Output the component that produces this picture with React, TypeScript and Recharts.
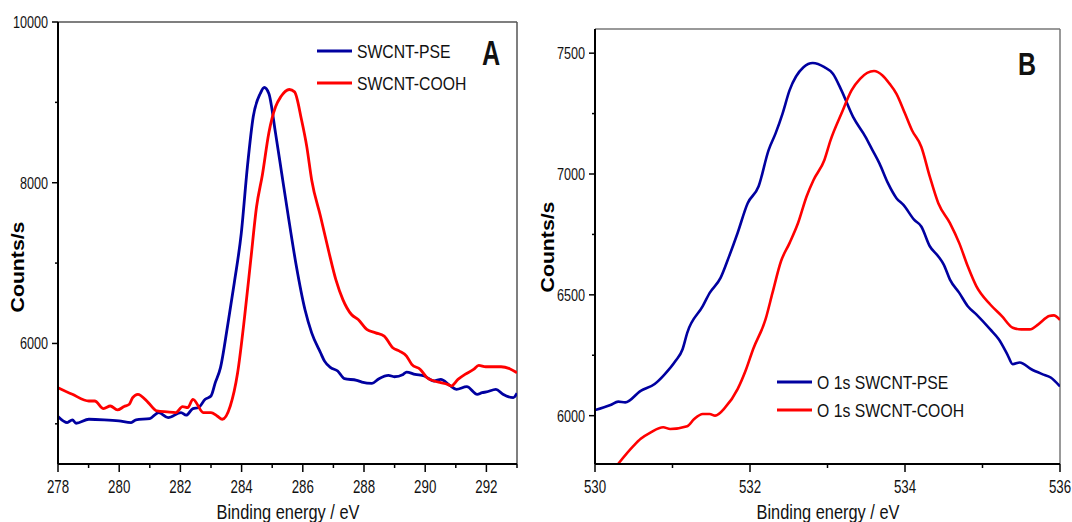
import { LineChart, Line, XAxis, YAxis, ReferenceLine } from 'recharts'

// Panel A: C 1s region
const aPseX = [278.0, 278.3, 278.47, 278.59, 279.01, 279.51, 279.99, 280.39, 280.55, 281.0, 281.29, 281.6, 282.02, 282.19, 282.41, 282.58, 282.81, 283.0, 283.14, 283.31, 283.54, 283.76, 283.99, 284.19, 284.38, 284.61, 284.74, 284.89, 285.11, 285.31, 285.51, 285.79, 286.07, 286.29, 286.58, 286.71, 286.91, 287.14, 287.36, 287.76, 287.93, 288.26, 288.49, 288.8, 288.99, 289.28, 289.39, 289.67, 289.97, 290.29, 290.51, 290.8, 291.02, 291.36, 291.7, 291.86, 292.0, 292.31, 292.54, 292.88, 293.0]
const aPseY = [5090, 5015, 5050, 5007, 5057, 5050, 5036, 5015, 5050, 5065, 5140, 5077, 5140, 5107, 5190, 5200, 5305, 5346, 5512, 5700, 6215, 6753, 7373, 8200, 8820, 9110, 9185, 9110, 8614, 8118, 7622, 6960, 6422, 6132, 5884, 5780, 5700, 5657, 5562, 5541, 5520, 5504, 5562, 5603, 5586, 5615, 5644, 5615, 5595, 5533, 5553, 5479, 5429, 5462, 5367, 5388, 5396, 5429, 5367, 5326, 5380]

const aCoohX = [278.0, 278.47, 279.01, 279.2, 279.49, 279.71, 279.94, 280.16, 280.33, 280.44, 280.61, 280.95, 281.23, 281.57, 281.85, 282.07, 282.24, 282.41, 282.75, 283.0, 283.2, 283.37, 283.63, 283.87, 284.1, 284.3, 284.49, 284.68, 284.89, 285.11, 285.28, 285.56, 285.73, 285.96, 286.13, 286.29, 286.58, 286.86, 287.08, 287.31, 287.59, 287.81, 288.09, 288.38, 288.66, 288.94, 289.16, 289.39, 289.56, 289.84, 290.06, 290.29, 290.51, 290.73, 290.85, 291.07, 291.3, 291.58, 291.75, 291.98, 292.48, 292.76, 293.0]
const aCoohY = [5450, 5367, 5284, 5284, 5190, 5222, 5173, 5215, 5243, 5326, 5367, 5264, 5161, 5148, 5140, 5215, 5202, 5305, 5140, 5140, 5098, 5057, 5222, 5636, 6339, 7042, 7704, 8100, 8620, 8945, 9069, 9160, 9131, 8780, 8449, 8035, 7580, 7125, 6794, 6546, 6360, 6298, 6174, 6132, 6091, 5946, 5905, 5843, 5740, 5677, 5574, 5533, 5512, 5491, 5471, 5553, 5615, 5677, 5727, 5710, 5710, 5686, 5636]

// Panel B: O 1s region
const bPseX = [530.0, 530.2, 530.3, 530.39, 530.59, 530.77, 530.89, 531.04, 531.13, 531.19, 531.39, 531.48, 531.62, 531.73, 531.84, 531.97, 532.11, 532.24, 532.33, 532.42, 532.51, 532.69, 532.81, 532.96, 533.07, 533.18, 533.33, 533.49, 533.58, 533.67, 533.78, 533.89, 533.98, 534.12, 534.21, 534.32, 534.43, 534.5, 534.58, 534.7, 534.81, 534.92, 535.1, 535.21, 535.32, 535.39, 535.48, 535.63, 535.77, 535.88, 536.0]
const bPseY = [6023, 6044, 6058, 6055, 6103, 6131, 6168, 6227, 6275, 6343, 6453, 6508, 6570, 6659, 6756, 6879, 6948, 7099, 7168, 7250, 7346, 7442, 7459, 7442, 7415, 7346, 7236, 7154, 7099, 7044, 6962, 6900, 6872, 6810, 6783, 6701, 6659, 6625, 6563, 6508, 6453, 6419, 6357, 6316, 6254, 6213, 6220, 6192, 6172, 6158, 6121]

const bCoohX = [530.3, 530.5, 530.59, 530.72, 530.88, 530.97, 531.19, 531.28, 531.39, 531.48, 531.55, 531.68, 531.84, 531.95, 532.04, 532.2, 532.29, 532.4, 532.51, 532.62, 532.73, 532.82, 532.96, 533.04, 533.18, 533.31, 533.42, 533.6, 533.71, 533.8, 533.89, 534.0, 534.09, 534.21, 534.32, 534.43, 534.58, 534.7, 534.81, 534.92, 535.1, 535.25, 535.39, 535.5, 535.61, 535.72, 535.86, 535.92, 536.0]
const bCoohY = [5801, 5876, 5904, 5931, 5952, 5945, 5956, 5986, 6007, 6007, 6000, 6034, 6110, 6192, 6275, 6398, 6508, 6639, 6714, 6797, 6907, 6975, 7058, 7140, 7250, 7346, 7394, 7426, 7408, 7374, 7332, 7250, 7181, 7113, 6989, 6879, 6797, 6714, 6618, 6536, 6460, 6412, 6364, 6357, 6357, 6378, 6412, 6415, 6396]

const aXTicks = [278, 279, 280, 281, 282, 283, 284, 285, 286, 287, 288, 289, 290, 291, 292, 293]
const aYTicks = [5000, 6000, 7000, 8000, 9000, 10000]
const bXTicks = [530, 531, 532, 533, 534, 535, 536]
const bYTicks = [6000, 6250, 6500, 6750, 7000, 7250, 7500]

const BLUE = '#0000a0'
const RED = '#ff0000'
const SANS = '"Liberation Sans", Arial, sans-serif'

const zip = (xs: number[], ys: number[]) => xs.map((x, i) => ({ x, y: ys[i] }))

// horizontally condensed text, the figure uses a narrow face
const NText = ({ x, y, sx = 0.82, children, ...rest }: any) => (
  <text transform={`translate(${x} ${y}) scale(${sx} 1)`} fontFamily={SANS} {...rest}>
    {children}
  </text>
)

const makeXTick = (labelEvery: number) => (props: any) => {
  const { x, y, payload } = props
  const v = payload.value
  const major = v % labelEvery === 0
  return (
    <g>
      <line x1={x} x2={x} y1={y} y2={y + (major ? 8 : 4)} stroke="#000" strokeWidth={1.5} />
      {major && (
        <NText x={x} y={y + 29} sx={0.74} textAnchor="middle" fontSize={18} fill="#111">
          {v}
        </NText>
      )}
    </g>
  )
}

const makeYTick = (labelEvery: number) => (props: any) => {
  const { x, y, payload } = props
  const v = payload.value
  const major = v % labelEvery === 0
  return (
    <g>
      <line x1={x} x2={x - (major ? 6 : 3)} y1={y} y2={y} stroke="#000" strokeWidth={1.5} />
      {major && (
        <NText x={x - 10} y={y + 6} sx={0.79} textAnchor="end" fontSize={16} fill="#111">
          {v}
        </NText>
      )}
    </g>
  )
}

export default function App() {
  const aPse = zip(aPseX, aPseY)
  const aCooh = zip(aCoohX, aCoohY)
  const bPse = zip(bPseX, bPseY)
  const bCooh = zip(bCoohX, bCoohY)

  return (
    <div style={{ position: 'absolute', left: 0, top: 0, width: 1072, height: 522, background: '#fff', overflow: 'hidden' }}>
      <div style={{ position: 'absolute', left: 0, top: 0 }}>
        <LineChart width={540} height={522} margin={{ top: 22, right: 23, bottom: 28, left: 8 }}>
          <XAxis dataKey="x" type="number" domain={[278, 293]} ticks={aXTicks} interval={0}
            tick={makeXTick(2)} tickLine={false} tickSize={0} tickMargin={0} height={30}
            axisLine={{ stroke: '#000', strokeWidth: 2 }} allowDataOverflow />
          <YAxis type="number" domain={[4500, 10000]} ticks={aYTicks} interval={0}
            tick={makeYTick(2000)} tickLine={false} tickSize={0} tickMargin={0} width={50}
            axisLine={{ stroke: '#000', strokeWidth: 2 }} allowDataOverflow />
          <ReferenceLine y={10000} stroke="#555" strokeWidth={1.5} />
          <ReferenceLine x={293} stroke="#555" strokeWidth={1.5} />
          <Line data={aPse} dataKey="y" type="monotone" stroke={BLUE} strokeWidth={2.8} dot={false} isAnimationActive={false} />
          <Line data={aCooh} dataKey="y" type="monotone" stroke={RED} strokeWidth={2.8} dot={false} isAnimationActive={false} />
        </LineChart>
      </div>
      <div style={{ position: 'absolute', left: 540, top: 0 }}>
        <LineChart width={532} height={522} margin={{ top: 29, right: 12, bottom: 28, left: 5 }}>
          <XAxis dataKey="x" type="number" domain={[530, 536]} ticks={bXTicks} interval={0}
            tick={makeXTick(2)} tickLine={false} tickSize={0} tickMargin={0} height={30}
            axisLine={{ stroke: '#000', strokeWidth: 2 }} allowDataOverflow />
          <YAxis type="number" domain={[5800, 7600]} ticks={bYTicks} interval={0}
            tick={makeYTick(500)} tickLine={false} tickSize={0} tickMargin={0} width={50}
            axisLine={{ stroke: '#000', strokeWidth: 2 }} allowDataOverflow />
          <ReferenceLine y={7600} stroke="#777" strokeWidth={1.5} />
          <ReferenceLine x={536} stroke="#777" strokeWidth={1.5} />
          <Line data={bPse} dataKey="y" type="monotone" stroke={BLUE} strokeWidth={2.6} dot={false} isAnimationActive={false} />
          <Line data={bCooh} dataKey="y" type="monotone" stroke={RED} strokeWidth={2.6} dot={false} isAnimationActive={false} />
        </LineChart>
      </div>
      <svg width={1072} height={522} style={{ position: 'absolute', left: 0, top: 0, pointerEvents: 'none' }}>
        <g fill="#111">
          <NText x={288} y={519} sx={0.82} textAnchor="middle" fontSize={20}>Binding energy / eV</NText>
          <NText x={828} y={519} sx={0.82} textAnchor="middle" fontSize={20}>Binding energy / eV</NText>
          <NText x={491} y={65} sx={0.72} textAnchor="middle" fontSize={35} fontWeight="bold">A</NText>
          <NText x={1027} y={74.5} sx={0.78} textAnchor="middle" fontSize={32} fontWeight="bold">B</NText>
          <line x1={317} x2={352} y1={51} y2={51} stroke={BLUE} strokeWidth={3} />
          <NText x={357} y={58} sx={0.83} fontSize={19}>SWCNT-PSE</NText>
          <line x1={317} x2={352} y1={83} y2={83} stroke={RED} strokeWidth={3} />
          <NText x={357} y={90} sx={0.83} fontSize={19}>SWCNT-COOH</NText>
          <line x1={777} x2={812} y1={382} y2={382} stroke={BLUE} strokeWidth={3} />
          <NText x={817} y={389} sx={0.83} fontSize={19}>O 1s SWCNT-PSE</NText>
          <line x1={777} x2={812} y1={410} y2={410} stroke={RED} strokeWidth={3} />
          <NText x={817} y={417} sx={0.83} fontSize={19}>O 1s SWCNT-COOH</NText>
        </g>
        <g fontFamily={SANS} fontWeight="bold" fontSize={18} fill="#000">
          <text transform="translate(18 267) rotate(-90) scale(1.18 1)" textAnchor="middle" dominantBaseline="central">Counts/s</text>
          <text transform="translate(548 247) rotate(-90) scale(1.18 1)" textAnchor="middle" dominantBaseline="central">Counts/s</text>
        </g>
      </svg>
    </div>
  )
}
